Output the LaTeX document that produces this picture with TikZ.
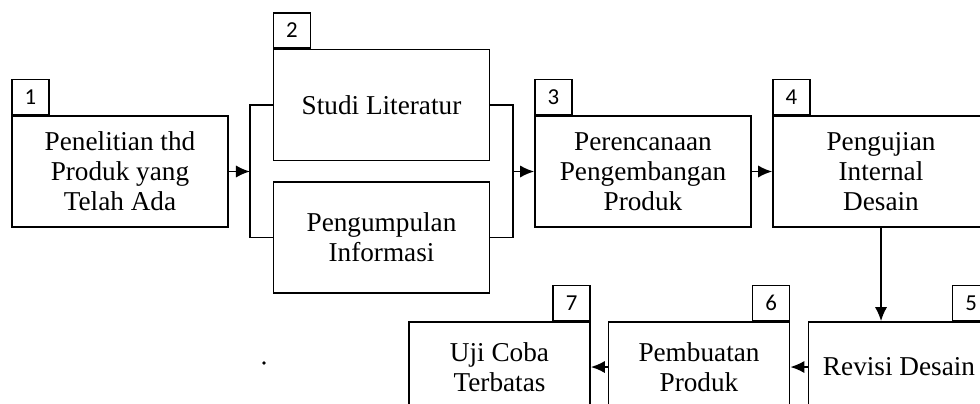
\documentclass[tikz,border=0pt]{standalone}
\usepackage{fontspec}
\setmainfont{Liberation Serif}
\newfontfamily\tabfont{Carlito}
\usepackage{tikz}
\usetikzlibrary{arrows.meta,calc}

\tikzset{
  stepbox/.style={draw,line width=1pt,align=center,inner sep=2pt,
    font=\fontsize{15.5}{17}\selectfont},
  upbox/.style={stepbox,minimum width=4.32cm,minimum height=2.22cm},
  lowbox/.style={stepbox,minimum width=3.62cm,minimum height=1.8cm},
  numtab/.style={draw,line width=0.8pt,minimum width=0.74cm,minimum height=0.7cm,
    inner sep=0pt,font=\tabfont\fontsize{13}{15}\selectfont},
  link/.style={line width=1pt},
}

\begin{document}
\begin{tikzpicture}[x=0.02cm,y=-0.02cm,>={Latex[length=8pt,width=7pt]}]
  \clip (0,0) rectangle (980,403);
  % top row
  \node[upbox] (b1) at (120,171.5) {Penelitian thd\\Produk yang\\Telah Ada};
  \node[upbox] (b2) at (381.5,105) {Studi Literatur};
  \node[upbox] (b2b) at (381.5,237.5) {Pengumpulan\\Informasi};
  \node[upbox] (b3) at (643,171.5) {Perencanaan\\Pengembangan\\Produk};
  \node[upbox] (b4) at (881,171.5) {Pengujian\\Internal\\Desain};
  % bottom row
  \node[lowbox] (b5) at (899,367) {Revisi Desain};
  \node[lowbox] (b6) at (699,367) {Pembuatan\\Produk};
  \node[lowbox] (b7) at (499.5,367) {Uji Coba\\Terbatas};
  % number tabs
  \node[numtab,anchor=south west] (t1) at (b1.north west) {1};
  \node[numtab,anchor=south west] (t2) at (b2.north west) {2};
  \node[numtab,anchor=south west] (t3) at (b3.north west) {3};
  \node[numtab,anchor=south west] (t4) at (b4.north west) {4};
  \node[numtab,anchor=south east] (t5) at (b5.north east) {5};
  \node[numtab,anchor=south east] (t6) at (b6.north east) {6};
  \node[numtab,anchor=south east] (t7) at (b7.north east) {7};
  % brackets round step 2
  \coordinate (jl) at (250,171.5);
  \coordinate (jr) at (513,171.5);
  \draw[link] (b2.west) -| (jl) |- (b2b.west);
  \draw[link] (b2.east) -| (jr) |- (b2b.east);
  % flow
  \draw[link,->] (b1) -- (jl);
  \draw[link,->] (jr) -- (b3);
  \draw[link,->] (b3) -- (b4);
  \draw[link,->] (b4.south) -- (b4.south |- b5.north);
  \draw[link,->] (b5) -- (b6);
  \draw[link,->] (b6) -- (b7);
  \fill (264,363) circle (1.1pt);
\end{tikzpicture}
\end{document}
